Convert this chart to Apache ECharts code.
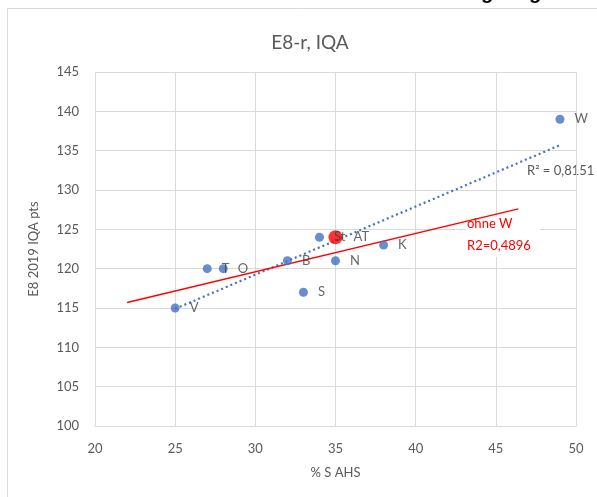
<!DOCTYPE html>
<html><head><meta charset="utf-8">
<script src="https://cdn.jsdelivr.net/npm/echarts@6/dist/echarts.min.js"></script>
<style>html,body{margin:0;padding:0;background:#fff}#c{width:597px;height:497px}</style>
</head><body><div id="c"></div>
<script>
// Data
const pointLabels = ['V','T','O','B','St','S','N','K','W'];
const xValues = [25, 27, 28, 32, 34, 33, 35, 38, 49];
const yValues = [115, 120, 120, 121, 124, 117, 121, 123, 139];
const highlightLabel = ['AT'];
const highlightX = [35];
const highlightY = [124];
// trendline (all points) endpoints as drawn
const trendX = [25, 49];
const trendY = [114.9, 135.7];
// red hand-drawn line "ohne W"
const redX = [22, 46.4];
const redY = [115.7, 127.6];
const xTicks = [20, 25, 30, 35, 40, 45, 50];
const yTicks = [100, 105, 110, 115, 120, 125, 130, 135, 140, 145];

const FONT = 'Lato, "Open Sans", sans-serif';
const GREY = '#595959';
const chart = echarts.init(document.getElementById('c'), null, {renderer:'canvas'});
const pts = xValues.map((x,i)=>({value:[x,yValues[i]], name:pointLabels[i]}));
const hl = highlightX.map((x,i)=>({value:[x,highlightY[i]], name:highlightLabel[i]}));
chart.setOption({
  animation:false,
  backgroundColor:'#fff',
  title:{text:'E8-r, IQA', left:305, top:28, textAlign:'center',
    textStyle:{fontFamily:FONT, fontSize:19, fontWeight:'normal', color:GREY}},
  grid:{left:95, right:21, top:72, bottom:71},
  xAxis:{type:'value', min:xTicks[0], max:xTicks[xTicks.length-1], interval:5,
    name:'% S AHS', nameLocation:'middle', nameGap:40,
    nameTextStyle:{fontFamily:FONT, fontSize:13, color:GREY},
    axisLine:{show:true, lineStyle:{color:'#d9d9d9'}}, axisTick:{show:false},
    axisLabel:{fontFamily:FONT, fontSize:13, color:GREY, margin:16},
    splitLine:{show:true, lineStyle:{color:'#d9d9d9', width:1}}},
  yAxis:{type:'value', min:yTicks[0], max:yTicks[yTicks.length-1], interval:5,
    name:'E8 2019 IQA pts', nameLocation:'middle', nameGap:55, nameRotate:90,
    nameTextStyle:{fontFamily:FONT, fontSize:13, color:GREY},
    axisLine:{show:false}, axisTick:{show:false},
    axisLabel:{fontFamily:FONT, fontSize:13, color:GREY, margin:16},
    splitLine:{show:true, lineStyle:{color:'#d9d9d9', width:1}}},
  series:[
    {type:'line', data:trendX.map((x,i)=>[x,trendY[i]]), symbol:'none', silent:true,
      lineStyle:{color:'#4472C4', width:2.2, type:[2,3]}, z:2},
    {type:'line', data:redX.map((x,i)=>[x,redY[i]]), symbol:'none', silent:true,
      lineStyle:{color:'#ff0000', width:1.5}, z:3},
    {type:'scatter', data:hl, symbolSize:14, itemStyle:{color:'#ff0000'}, z:4,
      label:{show:true, position:'right', distance:11, formatter:p=>p.name,
        fontFamily:FONT, fontSize:13, color:'#404040'}},
    {type:'scatter', data:pts, symbolSize:9, itemStyle:{color:'#4472C4'}, z:5,
      label:{show:true, position:'right', distance:10, formatter:p=>p.name,
        fontFamily:FONT, fontSize:13, color:'#404040'}}
  ],
  graphic:[
    {type:'rect', shape:{x:7.5, y:8.5, width:700, height:600}, style:{fill:null, stroke:'#d9d9d9', lineWidth:1}, z:-1},
    {type:'text', left:527, top:164, style:{text:'R² = 0,8151', font:'13px '+FONT, fill:GREY}},
    {type:'rect', shape:{x:466, y:217, width:74, height:40}, style:{fill:'#fff'}, z:1},
    {type:'text', left:467, top:217, z:10, style:{text:'ohne W', font:'13px '+FONT, fill:'#ff0000'}},
    {type:'text', left:467, top:239, z:10, style:{text:'R2=0,4896', font:'13px '+FONT, fill:'#ff0000'}},
    {type:'text', z:10, style:{x:481, y:3, text:'g', font:'bold 20px "Liberation Sans", sans-serif', fill:'#000', verticalAlign:'bottom', lineHeight:20}},
    {type:'text', z:10, style:{x:529, y:3, text:'g', font:'bold 20px "Liberation Sans", sans-serif', fill:'#000', verticalAlign:'bottom', lineHeight:20}}
  ]
});
</script></body></html>
